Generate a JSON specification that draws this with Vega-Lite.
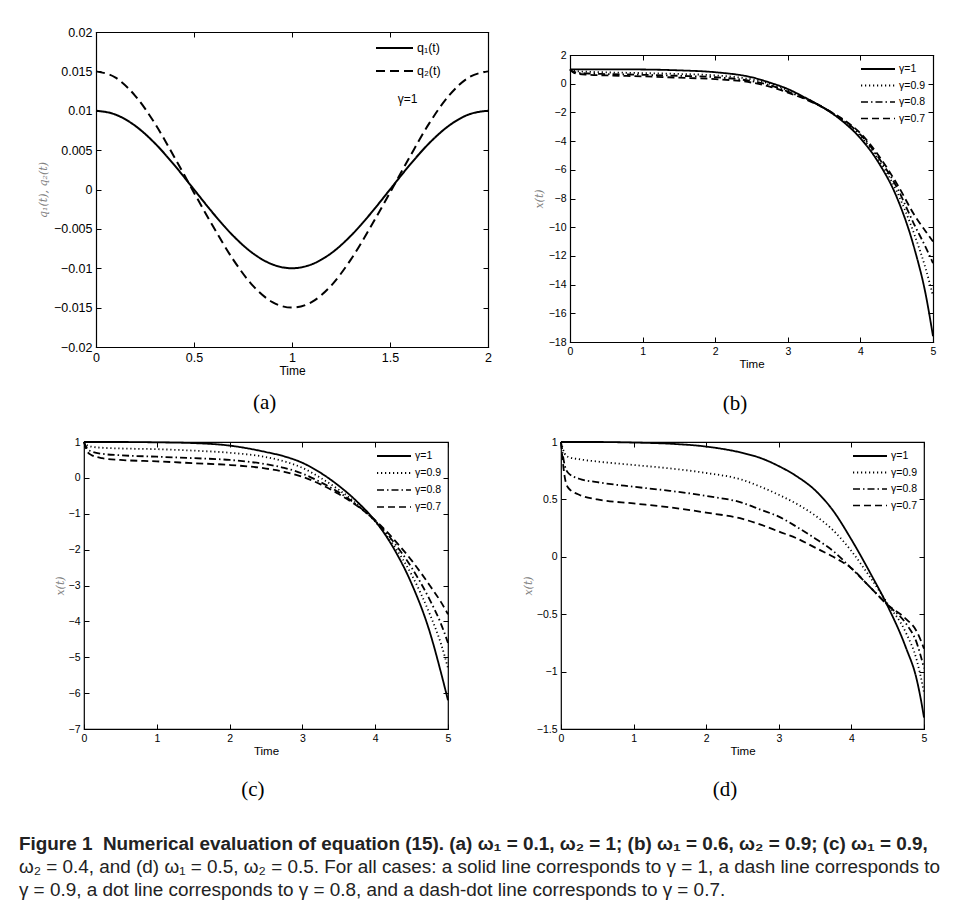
{
  "$schema": "https://vega.github.io/schema/vega-lite/v6.json",
  "background": "white",
  "padding": {"left": 18, "top": 26, "right": 4, "bottom": 4},
  "title": {
    "text": "Figure 1\u00a0\u00a0Numerical evaluation of equation (15). (a) ω₁ = 0.1, ω₂ = 1; (b) ω₁ = 0.6, ω₂ = 0.9; (c) ω₁ = 0.9,",
    "subtitle": ["ω₂ = 0.4, and (d) ω₁ = 0.5, ω₂ = 0.5. For all cases: a solid line corresponds to γ = 1, a dash line corresponds to", "γ = 0.9, a dot line corresponds to γ = 0.8, and a dash-dot line corresponds to γ = 0.7."],
    "orient": "bottom", "anchor": "start", "frame": "bounds",
    "font": "Liberation Sans", "fontSize": 18.9, "fontWeight": "bold", "color": "#222222",
    "subtitleFont": "Liberation Sans", "subtitleFontSize": 18.9, "subtitleColor": "#222222", "subtitleFontWeight": "normal",
    "subtitlePadding": 4, "subtitleLineHeight": 23, "offset": 34, "dx": -18.5
  },
  "datasets": {
    "qa": [
      {"t":0,"v":0.01,"s":"q₁(t)"},{"t":0.1,"v":0.00951,"s":"q₁(t)"},{"t":0.2,"v":0.00809,"s":"q₁(t)"},{"t":0.3,"v":0.00588,"s":"q₁(t)"},{"t":0.4,"v":0.00309,"s":"q₁(t)"},{"t":0.5,"v":0.0,"s":"q₁(t)"},{"t":0.6,"v":-0.00309,"s":"q₁(t)"},{"t":0.7,"v":-0.00588,"s":"q₁(t)"},{"t":0.8,"v":-0.00809,"s":"q₁(t)"},{"t":0.9,"v":-0.00951,"s":"q₁(t)"},{"t":1.0,"v":-0.01,"s":"q₁(t)"},{"t":1.1,"v":-0.00951,"s":"q₁(t)"},{"t":1.2,"v":-0.00809,"s":"q₁(t)"},{"t":1.3,"v":-0.00588,"s":"q₁(t)"},{"t":1.4,"v":-0.00309,"s":"q₁(t)"},{"t":1.5,"v":0.0,"s":"q₁(t)"},{"t":1.6,"v":0.00309,"s":"q₁(t)"},{"t":1.7,"v":0.00588,"s":"q₁(t)"},{"t":1.8,"v":0.00809,"s":"q₁(t)"},{"t":1.9,"v":0.00951,"s":"q₁(t)"},{"t":2.0,"v":0.01,"s":"q₁(t)"},
      {"t":0,"v":0.015,"s":"q₂(t)"},{"t":0.1,"v":0.0142,"s":"q₂(t)"},{"t":0.2,"v":0.0119,"s":"q₂(t)"},{"t":0.3,"v":0.0084,"s":"q₂(t)"},{"t":0.4,"v":0.0041,"s":"q₂(t)"},{"t":0.5,"v":-0.0004,"s":"q₂(t)"},{"t":0.6,"v":-0.0048,"s":"q₂(t)"},{"t":0.7,"v":-0.0089,"s":"q₂(t)"},{"t":0.8,"v":-0.0122,"s":"q₂(t)"},{"t":0.9,"v":-0.0143,"s":"q₂(t)"},{"t":1.0,"v":-0.015,"s":"q₂(t)"},{"t":1.1,"v":-0.0143,"s":"q₂(t)"},{"t":1.2,"v":-0.0122,"s":"q₂(t)"},{"t":1.3,"v":-0.0089,"s":"q₂(t)"},{"t":1.4,"v":-0.0048,"s":"q₂(t)"},{"t":1.5,"v":-0.0004,"s":"q₂(t)"},{"t":1.6,"v":0.0041,"s":"q₂(t)"},{"t":1.7,"v":0.0084,"s":"q₂(t)"},{"t":1.8,"v":0.0119,"s":"q₂(t)"},{"t":1.9,"v":0.0142,"s":"q₂(t)"},{"t":2.0,"v":0.015,"s":"q₂(t)"}
    ],
    "xb": [
      {"t":0,"v":1,"s":"γ=1"},{"t":0.05,"v":1,"s":"γ=1"},{"t":0.1,"v":1,"s":"γ=1"},{"t":0.25,"v":1,"s":"γ=1"},{"t":0.5,"v":1,"s":"γ=1"},{"t":1,"v":0.99,"s":"γ=1"},{"t":1.5,"v":0.93,"s":"γ=1"},{"t":2,"v":0.8,"s":"γ=1"},{"t":2.5,"v":0.45,"s":"γ=1"},{"t":2.75,"v":0.08,"s":"γ=1"},{"t":3,"v":-0.37,"s":"γ=1"},{"t":3.25,"v":-1.0,"s":"γ=1"},{"t":3.5,"v":-1.7,"s":"γ=1"},{"t":3.75,"v":-2.6,"s":"γ=1"},{"t":4,"v":-3.8,"s":"γ=1"},{"t":4.25,"v":-5.5,"s":"γ=1"},{"t":4.5,"v":-7.9,"s":"γ=1"},{"t":4.75,"v":-11.6,"s":"γ=1"},{"t":4.9,"v":-14.7,"s":"γ=1"},{"t":5,"v":-17.6,"s":"γ=1"},
      {"t":0,"v":1,"s":"γ=0.9"},{"t":0.05,"v":0.9,"s":"γ=0.9"},{"t":0.1,"v":0.87,"s":"γ=0.9"},{"t":0.25,"v":0.83,"s":"γ=0.9"},{"t":0.5,"v":0.79,"s":"γ=0.9"},{"t":1,"v":0.74,"s":"γ=0.9"},{"t":1.5,"v":0.68,"s":"γ=0.9"},{"t":2,"v":0.58,"s":"γ=0.9"},{"t":2.5,"v":0.3,"s":"γ=0.9"},{"t":2.75,"v":0.0,"s":"γ=0.9"},{"t":3,"v":-0.45,"s":"γ=0.9"},{"t":3.25,"v":-1.02,"s":"γ=0.9"},{"t":3.5,"v":-1.7,"s":"γ=0.9"},{"t":3.75,"v":-2.55,"s":"γ=0.9"},{"t":4,"v":-3.65,"s":"γ=0.9"},{"t":4.25,"v":-5.3,"s":"γ=0.9"},{"t":4.5,"v":-7.5,"s":"γ=0.9"},{"t":4.75,"v":-10.6,"s":"γ=0.9"},{"t":4.9,"v":-12.9,"s":"γ=0.9"},{"t":5,"v":-14.8,"s":"γ=0.9"},
      {"t":0,"v":1,"s":"γ=0.8"},{"t":0.05,"v":0.82,"s":"γ=0.8"},{"t":0.1,"v":0.77,"s":"γ=0.8"},{"t":0.25,"v":0.71,"s":"γ=0.8"},{"t":0.5,"v":0.67,"s":"γ=0.8"},{"t":1,"v":0.62,"s":"γ=0.8"},{"t":1.5,"v":0.55,"s":"γ=0.8"},{"t":2,"v":0.45,"s":"γ=0.8"},{"t":2.5,"v":0.18,"s":"γ=0.8"},{"t":2.75,"v":-0.1,"s":"γ=0.8"},{"t":3,"v":-0.55,"s":"γ=0.8"},{"t":3.25,"v":-1.06,"s":"γ=0.8"},{"t":3.5,"v":-1.7,"s":"γ=0.8"},{"t":3.75,"v":-2.5,"s":"γ=0.8"},{"t":4,"v":-3.55,"s":"γ=0.8"},{"t":4.25,"v":-5.15,"s":"γ=0.8"},{"t":4.5,"v":-7.2,"s":"γ=0.8"},{"t":4.75,"v":-9.9,"s":"γ=0.8"},{"t":4.9,"v":-11.4,"s":"γ=0.8"},{"t":5,"v":-12.5,"s":"γ=0.8"},
      {"t":0,"v":1,"s":"γ=0.7"},{"t":0.05,"v":0.76,"s":"γ=0.7"},{"t":0.1,"v":0.7,"s":"γ=0.7"},{"t":0.25,"v":0.63,"s":"γ=0.7"},{"t":0.5,"v":0.58,"s":"γ=0.7"},{"t":1,"v":0.51,"s":"γ=0.7"},{"t":1.5,"v":0.42,"s":"γ=0.7"},{"t":2,"v":0.32,"s":"γ=0.7"},{"t":2.5,"v":0.08,"s":"γ=0.7"},{"t":2.75,"v":-0.2,"s":"γ=0.7"},{"t":3,"v":-0.62,"s":"γ=0.7"},{"t":3.25,"v":-1.1,"s":"γ=0.7"},{"t":3.5,"v":-1.7,"s":"γ=0.7"},{"t":3.75,"v":-2.45,"s":"γ=0.7"},{"t":4,"v":-3.45,"s":"γ=0.7"},{"t":4.25,"v":-5.0,"s":"γ=0.7"},{"t":4.5,"v":-6.95,"s":"γ=0.7"},{"t":4.75,"v":-9.2,"s":"γ=0.7"},{"t":4.9,"v":-10.3,"s":"γ=0.7"},{"t":5,"v":-11.0,"s":"γ=0.7"}
    ],
    "xc": [
      {"t":0,"v":1,"s":"γ=1"},{"t":0.05,"v":1,"s":"γ=1"},{"t":0.1,"v":1,"s":"γ=1"},{"t":0.25,"v":1,"s":"γ=1"},{"t":0.5,"v":1,"s":"γ=1"},{"t":1,"v":0.99,"s":"γ=1"},{"t":1.5,"v":0.97,"s":"γ=1"},{"t":2,"v":0.9,"s":"γ=1"},{"t":2.5,"v":0.72,"s":"γ=1"},{"t":2.75,"v":0.6,"s":"γ=1"},{"t":3,"v":0.42,"s":"γ=1"},{"t":3.25,"v":0.14,"s":"γ=1"},{"t":3.5,"v":-0.22,"s":"γ=1"},{"t":3.75,"v":-0.66,"s":"γ=1"},{"t":4,"v":-1.2,"s":"γ=1"},{"t":4.25,"v":-1.95,"s":"γ=1"},{"t":4.5,"v":-2.95,"s":"γ=1"},{"t":4.75,"v":-4.3,"s":"γ=1"},{"t":4.9,"v":-5.4,"s":"γ=1"},{"t":5,"v":-6.2,"s":"γ=1"},
      {"t":0,"v":1,"s":"γ=0.9"},{"t":0.05,"v":0.9,"s":"γ=0.9"},{"t":0.1,"v":0.87,"s":"γ=0.9"},{"t":0.25,"v":0.84,"s":"γ=0.9"},{"t":0.5,"v":0.82,"s":"γ=0.9"},{"t":1,"v":0.8,"s":"γ=0.9"},{"t":1.5,"v":0.76,"s":"γ=0.9"},{"t":2,"v":0.7,"s":"γ=0.9"},{"t":2.5,"v":0.58,"s":"γ=0.9"},{"t":2.75,"v":0.46,"s":"γ=0.9"},{"t":3,"v":0.28,"s":"γ=0.9"},{"t":3.25,"v":0.0,"s":"γ=0.9"},{"t":3.5,"v":-0.33,"s":"γ=0.9"},{"t":3.75,"v":-0.73,"s":"γ=0.9"},{"t":4,"v":-1.22,"s":"γ=0.9"},{"t":4.25,"v":-1.87,"s":"γ=0.9"},{"t":4.5,"v":-2.7,"s":"γ=0.9"},{"t":4.75,"v":-3.8,"s":"γ=0.9"},{"t":4.9,"v":-4.6,"s":"γ=0.9"},{"t":5,"v":-5.3,"s":"γ=0.9"},
      {"t":0,"v":1,"s":"γ=0.8"},{"t":0.05,"v":0.8,"s":"γ=0.8"},{"t":0.1,"v":0.74,"s":"γ=0.8"},{"t":0.25,"v":0.67,"s":"γ=0.8"},{"t":0.5,"v":0.63,"s":"γ=0.8"},{"t":1,"v":0.59,"s":"γ=0.8"},{"t":1.5,"v":0.55,"s":"γ=0.8"},{"t":2,"v":0.5,"s":"γ=0.8"},{"t":2.5,"v":0.38,"s":"γ=0.8"},{"t":2.75,"v":0.28,"s":"γ=0.8"},{"t":3,"v":0.12,"s":"γ=0.8"},{"t":3.25,"v":-0.12,"s":"γ=0.8"},{"t":3.5,"v":-0.4,"s":"γ=0.8"},{"t":3.75,"v":-0.76,"s":"γ=0.8"},{"t":4,"v":-1.2,"s":"γ=0.8"},{"t":4.25,"v":-1.78,"s":"γ=0.8"},{"t":4.5,"v":-2.5,"s":"γ=0.8"},{"t":4.75,"v":-3.4,"s":"γ=0.8"},{"t":4.9,"v":-4.05,"s":"γ=0.8"},{"t":5,"v":-4.6,"s":"γ=0.8"},
      {"t":0,"v":1,"s":"γ=0.7"},{"t":0.05,"v":0.72,"s":"γ=0.7"},{"t":0.1,"v":0.64,"s":"γ=0.7"},{"t":0.25,"v":0.55,"s":"γ=0.7"},{"t":0.5,"v":0.5,"s":"γ=0.7"},{"t":1,"v":0.46,"s":"γ=0.7"},{"t":1.5,"v":0.41,"s":"γ=0.7"},{"t":2,"v":0.36,"s":"γ=0.7"},{"t":2.5,"v":0.26,"s":"γ=0.7"},{"t":2.75,"v":0.17,"s":"γ=0.7"},{"t":3,"v":0.03,"s":"γ=0.7"},{"t":3.25,"v":-0.18,"s":"γ=0.7"},{"t":3.5,"v":-0.45,"s":"γ=0.7"},{"t":3.75,"v":-0.78,"s":"γ=0.7"},{"t":4,"v":-1.18,"s":"γ=0.7"},{"t":4.25,"v":-1.7,"s":"γ=0.7"},{"t":4.5,"v":-2.3,"s":"γ=0.7"},{"t":4.75,"v":-3.0,"s":"γ=0.7"},{"t":4.9,"v":-3.45,"s":"γ=0.7"},{"t":5,"v":-3.8,"s":"γ=0.7"}
    ],
    "xd": [
      {"t":0,"v":1,"s":"γ=1"},{"t":0.05,"v":1,"s":"γ=1"},{"t":0.1,"v":1,"s":"γ=1"},{"t":0.25,"v":1,"s":"γ=1"},{"t":0.5,"v":1,"s":"γ=1"},{"t":1,"v":0.995,"s":"γ=1"},{"t":1.5,"v":0.985,"s":"γ=1"},{"t":2,"v":0.96,"s":"γ=1"},{"t":2.5,"v":0.905,"s":"γ=1"},{"t":2.75,"v":0.86,"s":"γ=1"},{"t":3,"v":0.79,"s":"γ=1"},{"t":3.25,"v":0.7,"s":"γ=1"},{"t":3.5,"v":0.58,"s":"γ=1"},{"t":3.75,"v":0.4,"s":"γ=1"},{"t":4,"v":0.15,"s":"γ=1"},{"t":4.25,"v":-0.13,"s":"γ=1"},{"t":4.5,"v":-0.43,"s":"γ=1"},{"t":4.75,"v":-0.79,"s":"γ=1"},{"t":4.9,"v":-1.07,"s":"γ=1"},{"t":4.95,"v":-1.22,"s":"γ=1"},{"t":5,"v":-1.4,"s":"γ=1"},
      {"t":0,"v":1,"s":"γ=0.9"},{"t":0.05,"v":0.9,"s":"γ=0.9"},{"t":0.1,"v":0.87,"s":"γ=0.9"},{"t":0.25,"v":0.85,"s":"γ=0.9"},{"t":0.5,"v":0.83,"s":"γ=0.9"},{"t":1,"v":0.8,"s":"γ=0.9"},{"t":1.5,"v":0.77,"s":"γ=0.9"},{"t":2,"v":0.73,"s":"γ=0.9"},{"t":2.5,"v":0.67,"s":"γ=0.9"},{"t":2.75,"v":0.61,"s":"γ=0.9"},{"t":3,"v":0.54,"s":"γ=0.9"},{"t":3.25,"v":0.46,"s":"γ=0.9"},{"t":3.5,"v":0.36,"s":"γ=0.9"},{"t":3.75,"v":0.23,"s":"γ=0.9"},{"t":4,"v":0.05,"s":"γ=0.9"},{"t":4.25,"v":-0.17,"s":"γ=0.9"},{"t":4.5,"v":-0.41,"s":"γ=0.9"},{"t":4.75,"v":-0.66,"s":"γ=0.9"},{"t":4.9,"v":-0.9,"s":"γ=0.9"},{"t":5,"v":-1.18,"s":"γ=0.9"},
      {"t":0,"v":1,"s":"γ=0.8"},{"t":0.05,"v":0.8,"s":"γ=0.8"},{"t":0.1,"v":0.73,"s":"γ=0.8"},{"t":0.25,"v":0.68,"s":"γ=0.8"},{"t":0.5,"v":0.65,"s":"γ=0.8"},{"t":1,"v":0.61,"s":"γ=0.8"},{"t":1.5,"v":0.575,"s":"γ=0.8"},{"t":2,"v":0.53,"s":"γ=0.8"},{"t":2.5,"v":0.47,"s":"γ=0.8"},{"t":2.75,"v":0.41,"s":"γ=0.8"},{"t":3,"v":0.35,"s":"γ=0.8"},{"t":3.25,"v":0.26,"s":"γ=0.8"},{"t":3.5,"v":0.16,"s":"γ=0.8"},{"t":3.75,"v":0.05,"s":"γ=0.8"},{"t":4,"v":-0.1,"s":"γ=0.8"},{"t":4.25,"v":-0.26,"s":"γ=0.8"},{"t":4.5,"v":-0.42,"s":"γ=0.8"},{"t":4.75,"v":-0.58,"s":"γ=0.8"},{"t":4.9,"v":-0.75,"s":"γ=0.8"},{"t":5,"v":-0.97,"s":"γ=0.8"},
      {"t":0,"v":1,"s":"γ=0.7"},{"t":0.05,"v":0.7,"s":"γ=0.7"},{"t":0.1,"v":0.6,"s":"γ=0.7"},{"t":0.25,"v":0.54,"s":"γ=0.7"},{"t":0.5,"v":0.5,"s":"γ=0.7"},{"t":1,"v":0.465,"s":"γ=0.7"},{"t":1.5,"v":0.43,"s":"γ=0.7"},{"t":2,"v":0.385,"s":"γ=0.7"},{"t":2.5,"v":0.33,"s":"γ=0.7"},{"t":2.75,"v":0.28,"s":"γ=0.7"},{"t":3,"v":0.22,"s":"γ=0.7"},{"t":3.25,"v":0.16,"s":"γ=0.7"},{"t":3.5,"v":0.08,"s":"γ=0.7"},{"t":3.75,"v":0.0,"s":"γ=0.7"},{"t":4,"v":-0.1,"s":"γ=0.7"},{"t":4.25,"v":-0.26,"s":"γ=0.7"},{"t":4.5,"v":-0.42,"s":"γ=0.7"},{"t":4.75,"v":-0.54,"s":"γ=0.7"},{"t":4.9,"v":-0.65,"s":"γ=0.7"},{"t":5,"v":-0.8,"s":"γ=0.7"}
    ],
    "ga": [{"t":1.59,"v":0.0115,"label":"γ=1"}]
  },
  "vconcat": [
    {
      "hconcat": [
        {
          "width": 404, "height": 315,
          "view": {"stroke": null},
          "title": {"text": "(a)", "orient": "bottom", "anchor": "middle", "frame": "bounds", "offset": 15},
          "layer": [
            {
              "data": {"name": "qa"},
              "mark": {"type": "line", "interpolate": "monotone", "strokeWidth": 2},
              "encoding": {
                "x": {"field": "t", "type": "quantitative", "scale": {"domain": [0, 2], "nice": false, "range": [12, 404]},
                      "axis": {"values": [0, 0.5, 1, 1.5, 2], "format": "~g", "title": "Time", "labelFontSize": 12.5, "titleFontSize": 12, "domain": true}},
                "y": {"field": "v", "type": "quantitative", "scale": {"domain": [-0.02, 0.02], "nice": false},
                      "axis": {"values": [-0.02, -0.015, -0.01, -0.005, 0, 0.005, 0.01, 0.015, 0.02], "format": "~g", "title": "q₁(t), q₂(t)", "labelFontSize": 12.5, "titlePadding": 5, "offset": -12, "domain": true}},
                "strokeDash": {"field": "s", "type": "nominal",
                               "scale": {"domain": ["q₁(t)", "q₂(t)"], "range": [[1, 0], [9, 5]]},
                               "legend": {"title": null, "legendX": 291, "legendY": 9, "labelFontSize": 12.5, "symbolSize": 1369, "clipHeight": 14, "rowPadding": 9, "symbolStrokeWidth": 2}},
                "color": {"value": "black"}
              }
            },
            {
              "data": {"name": "ga"},
              "mark": {"type": "text", "fontSize": 12, "font": "Liberation Sans", "color": "black"},
              "encoding": {
                "x": {"field": "t", "type": "quantitative", "axis": {"orient": "top", "labels": false, "title": null, "values": [0, 0.5, 1, 1.5, 2], "domain": true}},
                "y": {"field": "v", "type": "quantitative", "axis": {"orient": "right", "labels": false, "title": null, "values": [-0.02, -0.015, -0.01, -0.005, 0, 0.005, 0.01, 0.015, 0.02], "domain": true}},
                "text": {"field": "label"}
              }
            }
          ],
          "resolve": {"axis": {"x": "independent", "y": "independent"}}
        },
        {
          "width": 363, "height": 310,
          "view": {"stroke": null},
          "title": {"text": "(b)", "orient": "bottom", "anchor": "middle", "frame": "bounds", "offset": 23},
          "data": {"name": "xb"},
          "layer": [
            {
              "mark": {"type": "line", "interpolate": "monotone"},
              "encoding": {
                "x": {"field": "t", "type": "quantitative", "scale": {"domain": [0, 5], "nice": false},
                      "axis": {"values": [0, 1, 2, 3, 4, 5], "title": "Time", "domain": true}},
                "y": {"field": "v", "type": "quantitative", "scale": {"domain": [-18, 2], "nice": false, "range": [310, 23]},
                      "axis": {"values": [-18, -16, -14, -12, -10, -8, -6, -4, -2, 0, 2], "title": "x(t)", "domain": true}},
                "strokeDash": {"field": "s", "type": "nominal",
                               "scale": {"domain": ["γ=1", "γ=0.9", "γ=0.8", "γ=0.7"], "range": [[1, 0], [1.2, 2.8], [7, 3, 1.5, 3], [7, 4]]},
                               "legend": {"title": null, "legendX": 290, "legendY": 31}},
                "strokeWidth": {"field": "s", "type": "nominal",
                                "scale": {"domain": ["γ=1", "γ=0.9", "γ=0.8", "γ=0.7"], "range": [2, 1.3, 1.8, 2.2]},
                                "legend": {"title": null, "legendX": 290, "legendY": 31}},
                "color": {"value": "black"}
              }
            },
            {
              "mark": {"type": "line", "opacity": 0},
              "encoding": {
                "x": {"field": "t", "type": "quantitative", "axis": {"orient": "top", "labels": false, "title": null, "values": [0, 1, 2, 3, 4, 5], "offset": -23, "domain": true}},
                "y": {"field": "v", "type": "quantitative", "axis": {"orient": "right", "labels": false, "title": null, "values": [-18, -16, -14, -12, -10, -8, -6, -4, -2, 0, 2], "domain": true}},
                "detail": {"field": "s"}
              }
            }
          ],
          "resolve": {"axis": {"x": "independent", "y": "independent"}}
        }
      ],
      "spacing": 82, "bounds": "flush",
      "resolve": {"scale": {"strokeDash": "independent", "strokeWidth": "independent"}, "legend": {"strokeDash": "independent", "strokeWidth": "independent"}}
    },
    {
      "hconcat": [
        {
          "width": 364, "height": 287,
          "title": {"text": "(c)", "orient": "bottom", "anchor": "middle", "frame": "bounds", "offset": 22},
          "data": {"name": "xc"},
          "layer": [
            {
              "mark": {"type": "line", "interpolate": "monotone"},
              "encoding": {
                "x": {"field": "t", "type": "quantitative", "scale": {"domain": [0, 5], "nice": false},
                      "axis": {"values": [0, 1, 2, 3, 4, 5], "title": "Time"}},
                "y": {"field": "v", "type": "quantitative", "scale": {"domain": [-7, 1], "nice": false},
                      "axis": {"values": [-7, -6, -5, -4, -3, -2, -1, 0, 1], "title": "x(t)", "titlePadding": 3}},
                "strokeDash": {"field": "s", "type": "nominal",
                               "scale": {"domain": ["γ=1", "γ=0.9", "γ=0.8", "γ=0.7"], "range": [[1, 0], [1.2, 2.8], [7, 3, 1.5, 3], [7, 4]]},
                               "legend": {"title": null, "legendX": 292, "legendY": 8, "rowPadding": 5}},
                "strokeWidth": {"field": "s", "type": "nominal",
                                "scale": {"domain": ["γ=1", "γ=0.9", "γ=0.8", "γ=0.7"], "range": [2, 1.3, 1.8, 2.2]},
                                "legend": {"title": null, "legendX": 292, "legendY": 8, "rowPadding": 5}},
                "color": {"value": "black"}
              }
            },
            {
              "mark": {"type": "line", "opacity": 0},
              "encoding": {
                "x": {"field": "t", "type": "quantitative", "axis": {"orient": "top", "labels": false, "title": null, "values": [0, 1, 2, 3, 4, 5]}},
                "y": {"field": "v", "type": "quantitative", "axis": {"orient": "right", "labels": false, "title": null, "values": [-7, -6, -5, -4, -3, -2, -1, 0, 1]}},
                "detail": {"field": "s"}
              }
            }
          ],
          "resolve": {"axis": {"x": "independent", "y": "independent"}}
        },
        {
          "width": 363, "height": 287,
          "title": {"text": "(d)", "orient": "bottom", "anchor": "middle", "frame": "bounds", "offset": 22},
          "data": {"name": "xd"},
          "layer": [
            {
              "mark": {"type": "line", "interpolate": "monotone"},
              "encoding": {
                "x": {"field": "t", "type": "quantitative", "scale": {"domain": [0, 5], "nice": false},
                      "axis": {"values": [0, 1, 2, 3, 4, 5], "title": "Time"}},
                "y": {"field": "v", "type": "quantitative", "scale": {"domain": [-1.5, 1], "nice": false},
                      "axis": {"values": [-1.5, -1, -0.5, 0, 0.5, 1], "format": "~g", "title": "x(t)", "titlePadding": 3}},
                "strokeDash": {"field": "s", "type": "nominal",
                               "scale": {"domain": ["γ=1", "γ=0.9", "γ=0.8", "γ=0.7"], "range": [[1, 0], [1.2, 2.8], [7, 3, 1.5, 3], [7, 4]]},
                               "legend": {"title": null, "legendX": 291, "legendY": 8}},
                "strokeWidth": {"field": "s", "type": "nominal",
                                "scale": {"domain": ["γ=1", "γ=0.9", "γ=0.8", "γ=0.7"], "range": [2, 1.3, 1.8, 2.2]},
                                "legend": {"title": null, "legendX": 291, "legendY": 8}},
                "color": {"value": "black"}
              }
            },
            {
              "mark": {"type": "line", "opacity": 0},
              "encoding": {
                "x": {"field": "t", "type": "quantitative", "axis": {"orient": "top", "labels": false, "title": null, "values": [0, 1, 2, 3, 4, 5]}},
                "y": {"field": "v", "type": "quantitative", "axis": {"orient": "right", "labels": false, "title": null, "values": [-1.5, -1, -0.5, 0, 0.5, 1]}},
                "detail": {"field": "s"}
              }
            }
          ],
          "resolve": {"axis": {"x": "independent", "y": "independent"}}
        }
      ],
      "spacing": 113, "bounds": "flush",
      "resolve": {"scale": {"strokeDash": "independent", "strokeWidth": "independent"}, "legend": {"strokeDash": "independent", "strokeWidth": "independent"}}
    }
  ],
  "spacing": 22,
  "resolve": {"scale": {"strokeDash": "independent", "strokeWidth": "independent"}, "legend": {"strokeDash": "independent", "strokeWidth": "independent"}},
  "config": {
    "font": "Liberation Sans",
    "view": {"stroke": "black", "strokeWidth": 1.2},
    "axis": {"domain": false, "domainColor": "black", "domainWidth": 1.2, "domainCap": "square", "grid": false, "tickSize": -5, "tickColor": "black", "tickWidth": 1,
             "labelColor": "black", "labelFont": "Liberation Sans", "labelFontSize": 10.5, "labelPadding": 9,
             "labelFlush": false, "labelOverlap": false,
             "titleFont": "Liberation Sans", "titleFontWeight": "normal", "titleFontSize": 11.5, "titleColor": "black", "titlePadding": 2},
    "axisY": {"titleFont": "DejaVu Serif", "titleFontStyle": "italic", "titleColor": "#808080", "titleFontSize": 11, "titlePadding": 4},
    "legend": {"orient": "none", "symbolType": "stroke", "symbolSize": 1156, "symbolStrokeColor": "black",
               "labelFont": "Liberation Sans", "labelFontSize": 10.5, "labelColor": "black", "labelOffset": 3,
               "clipHeight": 12, "rowPadding": 4.5, "padding": 0},
    "title": {"font": "Liberation Serif", "fontSize": 21, "fontWeight": "normal", "color": "black"},
    "line": {"color": "black", "strokeWidth": 1.8}
  }
}
